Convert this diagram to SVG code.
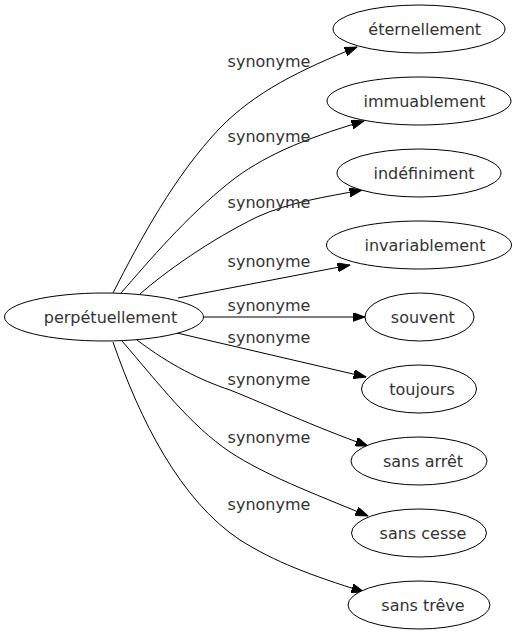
<svg xmlns="http://www.w3.org/2000/svg" width="516" height="635" viewBox="0 0 516 635">
<defs>
<marker id="ah" markerWidth="13" markerHeight="9" refX="12.5" refY="4.5" orient="auto" markerUnits="userSpaceOnUse">
<polygon points="0,0 12.5,4.5 0,9" fill="#000" stroke="#000" stroke-width="1"/>
</marker>
<style>
.n ellipse{fill:#fff;stroke:#000;stroke-width:1}
.n text{font-family:"DejaVu Sans",sans-serif;font-size:16px;fill:#333;text-anchor:middle}
#edges path{fill:none;stroke:#000;stroke-width:1;marker-end:url(#ah)}
#edges text{font-family:"DejaVu Sans",sans-serif;font-size:16px;fill:#333;text-anchor:middle}
</style>
</defs>
<rect width="516" height="635" fill="#fff"/>
<g id="edges">
<path d="M113,293 C140,240 175,175 220,128 C255,92 300,70 357,47"/>
<path d="M121,293 C150,260 185,218 230,182 C262,157 300,140 364,121"/>
<path d="M140,294 C165,272 210,240 257,217 C290,202 325,197 362,190"/>
<path d="M178,298 L350,265"/>
<path d="M204,317 L365,317"/>
<path d="M177,333 L366,377"/>
<path d="M137,340 C170,365 200,380 230,390 C270,406 310,425 368,446"/>
<path d="M122,341 C160,385 190,425 230,452 C265,475 310,492 368,516"/>
<path d="M113,342 C140,420 180,500 240,540 C275,562 310,575 364,592"/>
<text x="269" y="66.5">synonyme</text>
<text x="269" y="141.5">synonyme</text>
<text x="269" y="208">synonyme</text>
<text x="269" y="267">synonyme</text>
<text x="269" y="310.5">synonyme</text>
<text x="269" y="342.5">synonyme</text>
<text x="269" y="385">synonyme</text>
<text x="269" y="443">synonyme</text>
<text x="269" y="510">synonyme</text>
</g>
<g id="perpetuellement" class="n"><ellipse cx="104" cy="317" rx="99.5" ry="24"/><text x="110.5" y="322.5">perpétuellement</text></g>
<g id="eternellement" class="n"><ellipse cx="419" cy="29" rx="86" ry="24"/><text x="424.7" y="34.5">éternellement</text></g>
<g id="immuablement" class="n"><ellipse cx="419" cy="101" rx="92" ry="24"/><text x="424.5" y="106.5">immuablement</text></g>
<g id="indefiniment" class="n"><ellipse cx="419" cy="173" rx="82" ry="24"/><text x="424" y="178.5">indéfiniment</text></g>
<g id="invariablement" class="n"><ellipse cx="419" cy="245" rx="92.5" ry="24"/><text x="425" y="250.5">invariablement</text></g>
<g id="souvent" class="n"><ellipse cx="419.5" cy="317" rx="54.5" ry="24"/><text x="422.8" y="322.5">souvent</text></g>
<g id="toujours" class="n"><ellipse cx="419" cy="389" rx="57.5" ry="24"/><text x="422" y="394.5">toujours</text></g>
<g id="sans-arret" class="n"><ellipse cx="419" cy="461" rx="68" ry="24"/><text x="423" y="466.5">sans arrêt</text></g>
<g id="sans-cesse" class="n"><ellipse cx="419" cy="533" rx="67.5" ry="24"/><text x="423" y="538.5">sans cesse</text></g>
<g id="sans-treve" class="n"><ellipse cx="419" cy="605" rx="71" ry="24"/><text x="423" y="610.5">sans trêve</text></g>
</svg>
